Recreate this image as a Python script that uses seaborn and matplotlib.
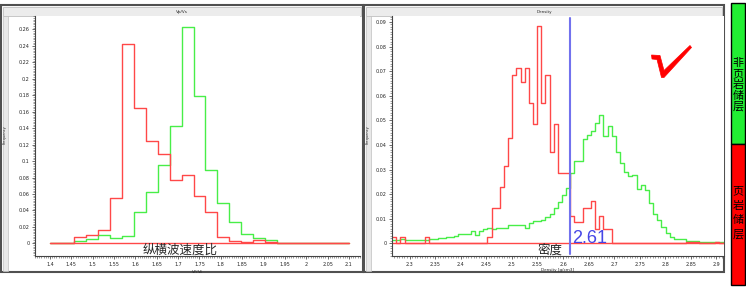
import numpy as np
import pandas as pd
import matplotlib
matplotlib.use("Agg")
import matplotlib.pyplot as plt
import seaborn as sns
from matplotlib.patches import Rectangle, Polygon
from matplotlib.ticker import MultipleLocator, AutoMinorLocator, FuncFormatter

# Vp/Vs frequency histogram, 25 bins from 1.4 to 2.1
vpvs_bins = np.linspace(1.4, 2.1, 26)
vpvs_shale = [0, 0, 0.0077, 0.0098, 0.016, 0.055, 0.242, 0.164, 0.1247, 0.109,
              0.077, 0.083, 0.057, 0.038, 0.008, 0.0025, 0.0015, 0.004, 0.0015, 0.001,
              0, 0.001, 0.001, 0.001, 0.001]
vpvs_nonshale = [0.001, 0.001, 0.003, 0.005, 0.010, 0.0065, 0.009, 0.038, 0.062, 0.095,
                 0.143, 0.263, 0.179, 0.089, 0.049, 0.026, 0.011, 0.006, 0.004, 0.001,
                 0, 0.0005, 0.0005, 0.0005, 0.0005]

# density frequency histogram, 80 bins of 0.0081 starting at 2.266
density_bins = 2.266 + 0.0081 * np.arange(81)
density_shale = [0.0027, 0, 0.0027, 0, 0, 0, 0, 0, 0.0027, 0,
                 0, 0, 0, 0, 0, 0, 0, 0, 0, 0,
                 0, 0, 0, 0.0027, 0.0142, 0.0142, 0.0228, 0.0314, 0.0427, 0.0683,
                 0.0714, 0.0656, 0.0714, 0.057, 0.0485, 0.0882, 0.057, 0.0683, 0.037, 0.0484,
                 0.0287, 0.0287, 0.0287, 0.0112, 0.0088, 0.0088, 0.0142, 0.0142, 0.0172, 0.0058,
                 0.0112, 0.0058, 0.0058, 0, 0, 0, 0, 0, 0, 0,
                 0, 0, 0, 0, 0, 0, 0, 0, 0, 0,
                 0, 0.0006, 0.0006, 0.0006, 0, 0, 0, 0, 0.0006, 0]
density_nonshale = [0.0014, 0.0014, 0.0018, 0.0014, 0.0014, 0.0012, 0.0012, 0.0012, 0.0014, 0.0018,
                    0.0019, 0.002, 0.0022, 0.0024, 0.0027, 0.003, 0.0039, 0.0037, 0.0037, 0.0049,
                    0.0034, 0.0051, 0.0057, 0.0061, 0.0057, 0.0064, 0.0061, 0.0064, 0.0075, 0.0076,
                    0.0076, 0.0075, 0.0061, 0.0081, 0.0089, 0.0089, 0.0095, 0.0108, 0.0119, 0.0142,
                    0.0167, 0.0196, 0.0223, 0.0284, 0.0336, 0.0336, 0.0423, 0.044, 0.0458, 0.0488,
                    0.0522, 0.0437, 0.0478, 0.0437, 0.0372, 0.0328, 0.0291, 0.0273, 0.0277, 0.0219,
                    0.0237, 0.0217, 0.0162, 0.0118, 0.0095, 0.0065, 0.004, 0.0027, 0.0017, 0.0017,
                    0.0017, 0.001, 0.001, 0.001, 0.0004, 0.0004, 0.0004, 0.0004, 0.0004, 0.0004]
density_cutoff = 2.613

RED = "#ff4848"
GREEN = "#48ee48"
W, H = 746, 287

sns.set_theme(style="white")
plt.rcParams["font.family"] = ["DejaVu Sans", "Noto Sans CJK SC"]
CJK = ["Noto Sans CJK SC", "DejaVu Sans"]


def box(x0, y0, x1, y1):
    # pixel box (y down) -> figure fraction rect
    return [x0 / W, 1 - y1 / H, (x1 - x0) / W, (y1 - y0) / H]


def draw_hist(ax, bins, values, color, baseline=False):
    bins = np.asarray(bins)
    df = pd.DataFrame({"x": (bins[:-1] + bins[1:]) / 2, "freq": values})
    sns.histplot(data=df, x="x", weights="freq", bins=bins.tolist(), element="step",
                 fill=False, color=color, linewidth=1.0, ax=ax)
    if baseline:
        # closed baseline like the original software
        ax.plot([bins[0], bins[-1]], [0, 0], color=color, linewidth=1.0)


def style_axis(ax, xmaj, ymaj, xlabel):
    for s in ["top", "right"]:
        ax.spines[s].set_visible(False)
    for s in ["left", "bottom"]:
        ax.spines[s].set_color("#444444")
        ax.spines[s].set_linewidth(0.8)
    ax.xaxis.set_major_locator(MultipleLocator(xmaj))
    ax.yaxis.set_major_locator(MultipleLocator(ymaj))
    ax.xaxis.set_minor_locator(AutoMinorLocator(10))
    ax.yaxis.set_minor_locator(AutoMinorLocator(10))
    fmt = FuncFormatter(lambda v, p: f"{round(v, 4) + 0:g}")
    ax.xaxis.set_major_formatter(fmt)
    ax.yaxis.set_major_formatter(fmt)
    ax.tick_params(which="major", length=2.5, width=0.5, color="#333333",
                   labelsize=3.5, pad=1.5, bottom=True, left=True)
    ax.tick_params(which="minor", length=1.2, width=0.4, color="#555555",
                   bottom=True, left=True)
    ax.set_xlabel(xlabel, fontsize=3, labelpad=1)
    ax.set_ylabel("")


fig = plt.figure(figsize=(W / 100, H / 100), dpi=100)

# background decorations drawn in pixel coordinates
bg = fig.add_axes([0, 0, 1, 1], zorder=0)
bg.set_xlim(0, W)
bg.set_ylim(H, 0)
bg.axis("off")
for x0, x1, title in [(1, 363, "Vp/Vs"), (364, 724, "Density")]:
    bg.add_patch(Rectangle((x0, 5), x1 - x0, 267, facecolor="white",
                           edgecolor="#505050", linewidth=1.5))
    bg.add_patch(Rectangle((x0 + 2, 7), x1 - x0 - 4, 9, facecolor="#ececec",
                           edgecolor="#b5b5b5", linewidth=0.5))
    bg.text((x0 + x1) / 2, 11.5, title, fontsize=3, ha="center", va="center")
    bg.add_patch(Rectangle((x0 + 2, 16), 5, 255, facecolor="#e8e8e8",
                           edgecolor="#c0c0c0", linewidth=0.5))
    bg.text(x0 + 3.5, 135, "Frequency", fontsize=2.6, rotation=90,
            ha="center", va="center")
bg.add_patch(Rectangle((731, 3), 14, 141, facecolor="#22ee33", edgecolor="black", linewidth=1))
bg.add_patch(Rectangle((731, 144), 14, 141, facecolor="#ff0000", edgecolor="black", linewidth=1))
bg.text(738, 85, "非\n页\n岩\n储\n层", family=CJK, fontsize=8, ha="center",
        va="center", linespacing=1.1, color="black")
bg.text(738, 213, "页\n岩\n储\n层", family=CJK, fontsize=8, ha="center",
        va="center", linespacing=1.5, color="black")

# left: Vp/Vs
ax1 = fig.add_axes(box(35, 16, 360, 256), zorder=2)
draw_hist(ax1, vpvs_bins, vpvs_nonshale, GREEN)
draw_hist(ax1, vpvs_bins, vpvs_shale, RED, baseline=True)
ax1.set_xlim(1.3649, 2.1258)
ax1.set_ylim(-0.0154, 0.2763)
style_axis(ax1, 0.05, 0.02, "V$_P$/V$_S$")

# right: density
ax2 = fig.add_axes(box(392, 16, 724, 256), zorder=2)
draw_hist(ax2, density_bins, density_nonshale, GREEN)
draw_hist(ax2, density_bins, density_shale, RED, baseline=True)
ax2.axvline(density_cutoff, ymin=0.01, ymax=0.99, color="#7272ee", linewidth=1.5)
ax2.text(density_cutoff + 0.004, 0, f"{density_cutoff:.2f}", color="#4646e6",
         fontsize=13, family="Liberation Sans", va="baseline", ha="left")
ax2.set_xlim(2.2656, 2.9147)
ax2.set_ylim(-0.00516, 0.0924)
style_axis(ax2, 0.05, 0.01, "Density [g/cm3]")

# overlay: chinese labels and the check mark
ov = fig.add_axes([0, 0, 1, 1], zorder=5)
ov.set_xlim(0, W)
ov.set_ylim(H, 0)
ov.axis("off")
ov.patch.set_alpha(0)
ov.text(180, 250, "纵横波速度比", family=CJK, fontsize=9, ha="center", va="center")
ov.text(550, 250, "密度", family=CJK, fontsize=9, ha="center", va="center")
ov.add_patch(Polygon([(651.5, 55), (660, 55.5), (664, 70.5), (690, 45.5), (691.5, 47.5),
                      (664, 77.5), (661.5, 77.5), (657, 59.5), (652, 59)],
                     closed=True, facecolor="#ff0000", edgecolor="#ff0000", linewidth=0.5))

fig.savefig("out.png", dpi=100)
plt.close(fig)
